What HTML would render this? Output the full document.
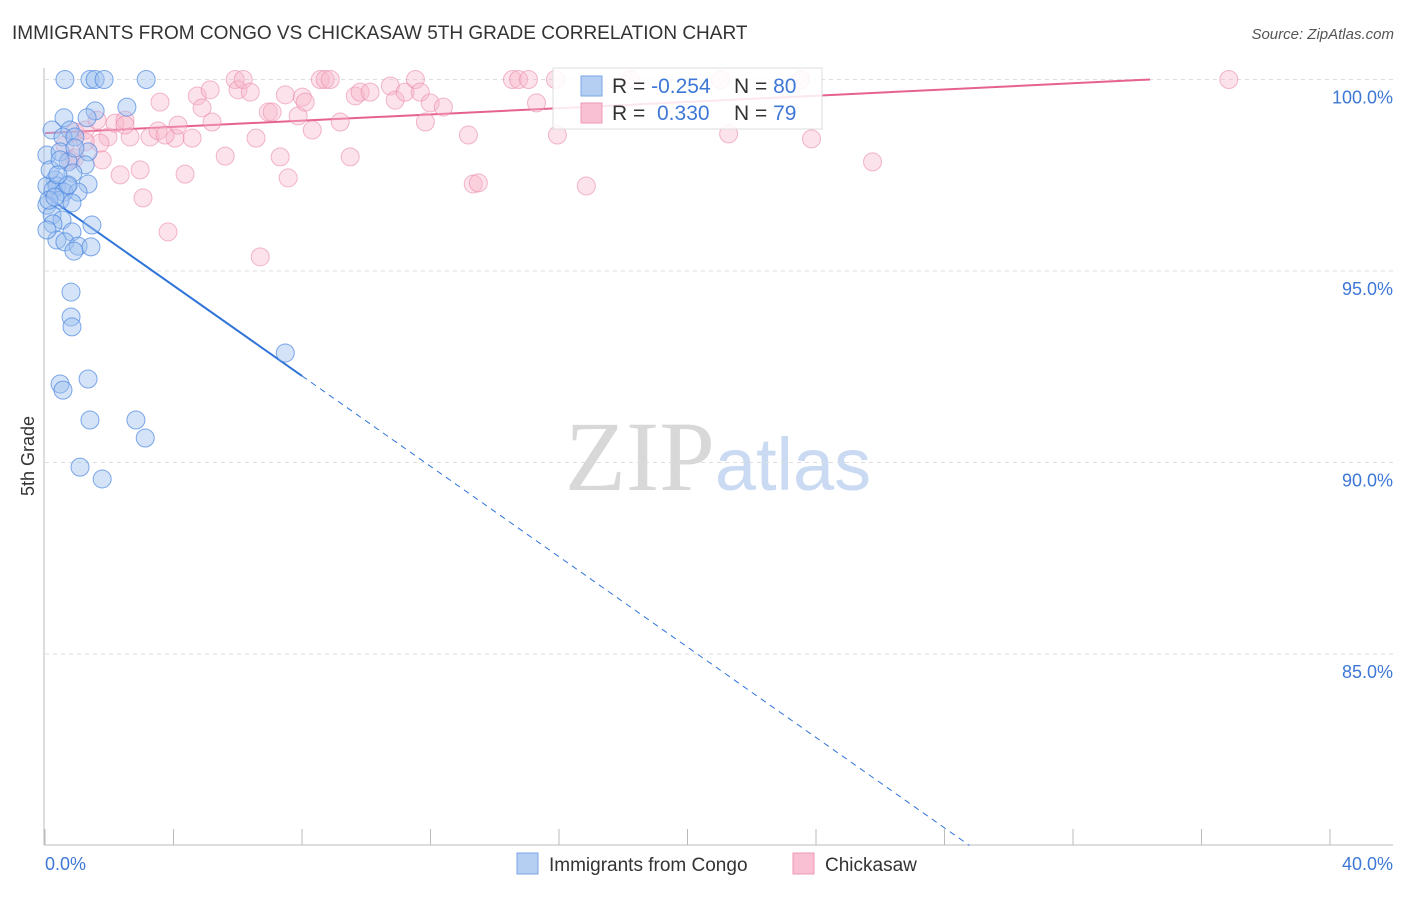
<!DOCTYPE html>
<html><head><meta charset="utf-8"><style>
body{margin:0;background:#fff;font-family:"Liberation Sans",sans-serif;}
svg text{font-family:"Liberation Sans",sans-serif;}
</style></head><body>
<svg id="chart" width="1406" height="892" xmlns="http://www.w3.org/2000/svg">
<text x="12" y="39" font-size="19" fill="#333">IMMIGRANTS FROM CONGO VS CHICKASAW 5TH GRADE CORRELATION CHART</text>
<text x="1394" y="39" font-size="15" fill="#555" text-anchor="end" font-style="italic">Source: ZipAtlas.com</text>
<text x="718" y="490" font-size="100" text-anchor="middle"><tspan fill="#d8d8d8" font-family="Liberation Serif">ZIP</tspan><tspan fill="#c9daf2" font-size="74">atlas</tspan></text>
<text transform="translate(34,456) rotate(-90)" font-size="18" fill="#333" text-anchor="middle">5th Grade</text>
<g id="grid"></g><g id="axes"></g><g id="trend"></g><g id="pts"></g>
<g>
<rect x="553" y="68" width="269" height="61" fill="#fff" fill-opacity="0.85" stroke="#ddd"/>
<rect x="581" y="76" width="21" height="20" fill="#b5cff3" stroke="#7aa6e6"/>
<rect x="581" y="103" width="21" height="20" fill="#f8c0d2" stroke="#ec9ab5"/>
<text x="612" y="93" font-size="21" fill="#333">R = <tspan fill="#3e78d6">-0.254</tspan><tspan x="734">N = </tspan><tspan fill="#3e78d6">80</tspan></text>
<text x="612" y="120" font-size="21" fill="#333">R = <tspan x="657" fill="#3e78d6">0.330</tspan><tspan x="734">N = </tspan><tspan fill="#3e78d6">79</tspan></text>
</g>
<g><rect x="517" y="853" width="21" height="21" fill="#b5cff3" stroke="#7aa6e6"/><text x="549" y="871" font-size="19" fill="#333">Immigrants from Congo</text></g>
<g><rect x="793" y="853" width="21" height="21" fill="#f8c0d2" stroke="#ec9ab5"/><text x="825" y="871" font-size="19" fill="#333">Chickasaw</text></g>
</svg>
<script>
const congoX=[0.62,1.40,1.56,1.84,3.15,2.55,1.56,0.59,1.31,0.22,0.78,0.56,0.93,0.06,0.47,1.34,0.72,1.25,0.87,0.31,0.06,0.37,0.69,1.34,0.25,0.59,1.03,0.47,0.84,0.06,0.22,0.53,0.25,1.46,0.84,0.37,0.62,1.03,1.43,0.9,0.81,0.81,0.84,7.48,0.47,0.56,1.34,1.40,2.83,3.12,1.09,1.78,0.16,0.12,0.31,0.06,0.72,0.47,0.93,0.4];
const congoY=[100,100,100,100,100,99.28,99.18,99.0,99.0,98.68,98.68,98.5,98.5,98.03,98.11,98.11,97.85,97.77,97.56,97.38,97.22,97.22,97.22,97.27,97.11,97.06,97.06,96.85,96.78,96.72,96.46,96.33,96.23,96.2,96.02,95.81,95.76,95.65,95.63,95.52,94.45,93.8,93.54,92.86,92.05,91.89,92.18,91.11,91.11,90.64,89.88,89.57,97.64,96.85,96.93,96.07,97.25,97.9,98.21,97.51];
const chickX=[0.62,0.78,0.93,0.93,1.25,1.62,1.78,1.96,2.18,2.34,2.49,2.65,2.96,3.05,3.27,3.52,3.58,3.83,4.05,4.14,4.36,4.58,4.74,4.89,5.14,5.2,5.61,5.92,6.01,6.17,6.39,6.57,6.7,6.95,7.07,7.32,7.48,7.57,7.88,8.01,8.1,8.32,8.57,8.72,8.88,9.19,9.5,9.66,9.81,10.12,10.75,10.9,11.21,11.53,11.68,11.84,11.99,12.4,13.18,13.33,13.49,14.55,14.74,15.05,15.3,15.89,15.95,16.85,18.22,21.03,21.28,23.52,23.86,25.76,36.85,2.49,1.71,1.25,3.74];
const chickY=[98.29,97.9,97.95,98.63,98.68,98.94,97.9,98.5,98.86,97.51,98.94,98.5,97.64,96.91,98.5,98.66,99.41,96.02,98.47,98.81,97.53,98.47,99.57,99.26,99.73,98.89,98.0,100,99.73,100,99.67,98.47,95.37,99.15,99.15,97.98,99.6,97.43,99.05,99.54,99.41,98.68,100,100,100,98.89,97.98,99.57,99.67,99.67,99.83,99.46,99.67,100,99.67,98.89,99.39,99.28,98.55,97.27,97.3,100,100,100,99.39,100,98.55,97.22,100,100,98.58,100,98.45,97.85,100,98.81,98.34,98.37,98.55];
const yTicks=[100,95,90,85];
const yTickLabels=["100.0%","95.0%","90.0%","85.0%"];
const xTicks=[0,4,8,12,16,20,24,28,32,36,40];
const congoTrend=[96.98,-0.59];
const chickTrend=[98.6,0.0407];
const NS="http://www.w3.org/2000/svg";
const X=v=>45+v*(1285/40);
const Y=v=>79.5+(100-v)*38.3;
function mk(parent,tag,attrs){const e=document.createElementNS(NS,tag);for(const k in attrs)e.setAttribute(k,attrs[k]);document.getElementById(parent).appendChild(e);return e;}
yTicks.forEach((t,i)=>{
 const l=mk('grid','line',{x1:45,x2:1393,y1:Y(t),y2:Y(t),stroke:'#ddd','stroke-dasharray':'4,4'});
 
 
 const tx=mk('grid','text',{x:1393,y:Y(t)+24,'font-size':18,fill:'#3e78d6','text-anchor':'end'});
 tx.textContent=yTickLabels[i];
 
 
});
const ya=mk('axes','line',{x1:44,x2:44,y1:68,y2:845,stroke:'#bbb'});


const xa=mk('axes','line',{x1:44,x2:1393,y1:845,y2:845,stroke:'#bbb'});


xTicks.forEach(t=>{
 const l=mk('axes','line',{x1:X(t),x2:X(t),y1:829,y2:845,stroke:'#bbb'});
 
 
});
const xl0=mk('axes','text',{x:45,y:870,'font-size':18,fill:'#3e78d6'});xl0.textContent=xTicks[0].toFixed(1)+'%';


const xl1=mk('axes','text',{x:1393,y:870,'font-size':18,fill:'#3e78d6','text-anchor':'end'});xl1.textContent=xTicks[xTicks.length-1].toFixed(1)+'%';


chickX.forEach((x,i)=>{
 const c=mk('pts','circle',{cx:X(x),cy:Y(chickY[i]),r:9,fill:'#f7b6cb','fill-opacity':0.4,stroke:'#e98aab','stroke-opacity':0.6});
 
 
});
congoX.forEach((x,i)=>{
 const c=mk('pts','circle',{cx:X(x),cy:Y(congoY[i]),r:9,fill:'#9fc0f0','fill-opacity':0.45,stroke:'#4a86e0','stroke-opacity':0.7});
 
 
});
const cf=x=>congoTrend[0]+congoTrend[1]*x;
const t1=mk('trend','line',{x1:X(0),y1:Y(cf(0)),x2:X(8),y2:Y(cf(8)),stroke:'#2f74d8','stroke-width':2});


const xe=(congoTrend[0]-80)/-congoTrend[1];
const t2=mk('trend','line',{x1:X(8),y1:Y(cf(8)),x2:X(xe),y2:Y(80),stroke:'#2f74d8','stroke-width':1,'stroke-dasharray':'6,5'});


const pe=(100-chickTrend[0])/chickTrend[1];
const t3=mk('trend','line',{x1:X(0),y1:Y(chickTrend[0]),x2:X(pe),y2:Y(100),stroke:'#e6628e','stroke-width':2});


</script>
</body></html>
